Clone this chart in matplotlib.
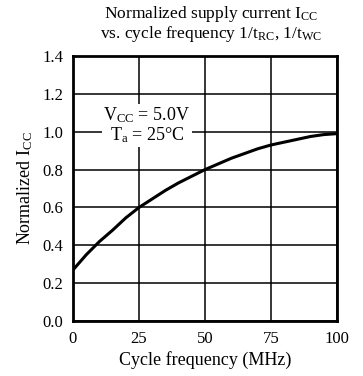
import numpy as np
import matplotlib
matplotlib.use("Agg")
from matplotlib import pyplot as plt

plt.rcParams["font.family"] = ["Liberation Serif", "DejaVu Serif"]
plt.rcParams["mathtext.fontset"] = "custom"
plt.rcParams["mathtext.rm"] = "Liberation Serif"
plt.rcParams["mathtext.it"] = "Liberation Serif"

freq = [0, 5, 10, 15, 20, 25, 30, 35, 40, 45, 50, 55, 60, 65, 70, 75, 80, 85, 90, 95, 100]
icc = [0.27, 0.35, 0.42, 0.48, 0.545, 0.60, 0.645, 0.69, 0.73, 0.765, 0.80,
       0.83, 0.86, 0.885, 0.91, 0.93, 0.945, 0.96, 0.975, 0.985, 0.99]

x_ticks = [0, 25, 50, 75, 100]
y_ticks = [0.0, 0.2, 0.4, 0.6, 0.8, 1.0, 1.2, 1.4]

fig = plt.figure(figsize=(3.63, 3.76), dpi=100)
ax = fig.add_axes([0.201, 0.146, 0.727, 0.705])

ax.plot(freq, icc, color="black", lw=2.2, zorder=3)

ax.set_xlim(0, 100)
ax.set_ylim(0, 1.4)
ax.set_xticks(x_ticks)
ax.set_yticks(y_ticks)
ax.set_yticklabels([f"{v:.1f}" for v in y_ticks])
ax.tick_params(length=0, labelsize=12, pad=7)
ax.grid(True, color="black", lw=1.1)
for s in ax.spines.values():
    s.set_linewidth(2)

ax.text(28, 1.035, "V$_{\\mathrm{CC}}$ = 5.0V\nT$_{\\mathrm{a}}$ = 25°C", ha="center", va="center",
        fontsize=13, linespacing=1.05,
        bbox=dict(facecolor="white", edgecolor="none", pad=1), zorder=4)

ax.set_xlabel("Cycle frequency (MHz)", fontsize=13, labelpad=3)
ax.set_ylabel("Normalized I$_{\\mathrm{CC}}$", fontsize=13, labelpad=5)

fig.text(0.58, 0.935, "Normalized supply current I$_{\\mathrm{CC}}$\nvs. cycle frequency 1/t$_{\\mathrm{RC}}$, 1/t$_{\\mathrm{WC}}$",
         ha="center", va="center", fontsize=12.5, linespacing=1.0)

fig.savefig("out.png", dpi=100)
